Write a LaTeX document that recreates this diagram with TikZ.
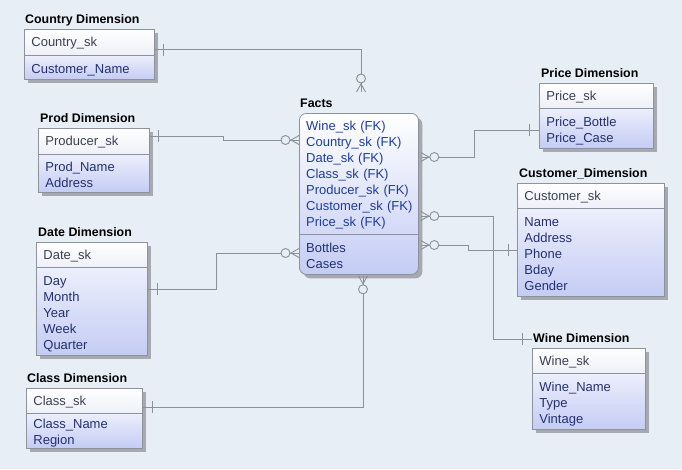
\documentclass[tikz,border=0pt]{standalone}
\usepackage{fontspec}
\setmainfont{Liberation Sans}
\usetikzlibrary{shadows,calc}
\definecolor{bgc}{HTML}{E8EEF6}
\definecolor{connc}{HTML}{8C9098}
\definecolor{boxln}{HTML}{8E929C}
\definecolor{hdrbot}{HTML}{EEF0F8}
\definecolor{bdytop}{HTML}{ECEFFC}
\definecolor{bdybot}{HTML}{C4CCF4}
\definecolor{keytxt}{HTML}{3C4052}
\definecolor{bodytxt}{HTML}{24306E}
\definecolor{fktxt}{HTML}{1F3C9C}
\definecolor{shadowc}{HTML}{A6A9AF}
\newcommand\rs{\vrule height 12.5pt depth 3.5pt width 0pt}
\newcommand\rt{\vrule height 15.5pt depth 3.5pt width 0pt}
\newcommand\rowfont{\fontsize{13}{16}\selectfont}
\newcommand\ttlfont{\fontsize{12.4}{14}\selectfont\bfseries}
\begin{document}
\begin{tikzpicture}[x=1pt,y=1pt,
  conn/.style={draw=connc, line width=0.9pt},
  ent/.style={draw=boxln, line width=0.8pt, anchor=north west, inner xsep=7pt, inner ysep=0pt, align=left, font=\rowfont,
    drop shadow={shadow xshift=4pt, shadow yshift=-4pt, fill=shadowc, opacity=1}},
  hdr/.style={ent, top color=white, bottom color=hdrbot, text=keytxt},
  bdy/.style={ent, top color=bdytop, bottom color=bdybot, text=bodytxt},
  ttl/.style={anchor=base west, inner sep=0pt, font=\ttlfont, text=black},
  zmany/.pic={\draw[conn] (0,4.5) -- (8,0) -- (0,-4.5); \draw[conn, fill=bgc] (13.5,0) circle (4.5);},
  onebar/.pic={\draw[conn] (0,-6) -- (0,6);}
]
\fill[bgc] (0,0) rectangle (682,-469);
\useasboundingbox (0,0) rectangle (682,-469);

% Country
\node[ttl] (cT) at (25,-23) {Country Dimension};
\node[hdr, minimum width=130, text width=116, minimum height=26] (cH) at (24,-29) {\rs Country\_sk};
\node[bdy, minimum width=130, text width=116, minimum height=24] (cB) at (24,-55) {\rt Customer\_Name};

% Prod
\node[ttl] (pT) at (40,-122) {Prod Dimension};
\node[hdr, minimum width=111, text width=97, minimum height=26] (pH) at (38,-128) {\rs Producer\_sk};
\node[bdy, minimum width=111, text width=97, minimum height=38] (pB) at (38,-154) {\rt Prod\_Name\\\rs Address};

% Date
\node[ttl] (dT) at (38,-236) {Date Dimension};
\node[hdr, minimum width=111, text width=97, minimum height=25] (dH) at (36,-242) {\rs Date\_sk};
\node[bdy, minimum width=111, text width=97, minimum height=88] (dB) at (36,-267) {\rt Day\\\rs Month\\\rs Year\\\rs Week\\\rs Quarter};

% Class
\node[ttl] (clT) at (27,-382) {Class Dimension};
\node[hdr, minimum width=116, text width=102, minimum height=25] (clH) at (26,-388) {\rs Class\_sk};
\node[bdy, minimum width=116, text width=102, minimum height=34] (clB) at (26,-413) {\rt Class\_Name\\\rs Region};

% Price
\node[ttl] (prT) at (541,-77) {Price Dimension};
\node[hdr, minimum width=114, text width=100, minimum height=25] (prH) at (539,-83) {\rs Price\_sk};
\node[bdy, minimum width=114, text width=100, minimum height=40] (prB) at (539,-108) {\rt Price\_Bottle\\\rs Price\_Case};

% Customer
\node[ttl] (cuT) at (519,-177) {Customer\_Dimension};
\node[hdr, minimum width=147, text width=133, minimum height=25] (cuH) at (517,-183) {\rs Customer\_sk};
\node[bdy, minimum width=147, text width=133, minimum height=88] (cuB) at (517,-208) {\rt Name\\\rs Address\\\rs Phone\\\rs Bday\\\rs Gender};

% Wine
\node[ttl] (wT) at (533,-342) {Wine Dimension};
\node[hdr, minimum width=113, text width=99, minimum height=25] (wH) at (532,-348) {\rs Wine\_sk};
\node[bdy, minimum width=113, text width=99, minimum height=56] (wB) at (532,-373) {\rt Wine\_Name\\\rs Type\\\rs Vintage};

% Facts
\node[ttl] (fT) at (300,-107) {Facts};
\node[draw=boxln, line width=0.8pt, rounded corners=7pt, top color=white, bottom color=bdybot,
  drop shadow={shadow xshift=4pt, shadow yshift=-4pt, fill=shadowc, opacity=1},
  anchor=north west, minimum width=119, minimum height=161, inner sep=0pt] (facts) at (299,-113) {};
\draw[draw=boxln, line width=0.8pt] ([yshift=-121]facts.north west) -- ([yshift=-121]facts.north east);
\node[anchor=north west, inner xsep=7pt, inner ysep=0pt, text width=112, minimum height=121, align=left, font=\rowfont, text=fktxt] (fK) at (facts.north west)
  {\rs Wine\_sk (FK)\\\rs Country\_sk (FK)\\\rs Date\_sk (FK)\\\rs Class\_sk (FK)\\\rs Producer\_sk (FK)\\\rs Customer\_sk (FK)\\\rs Price\_sk (FK)};
\node[anchor=north west, inner xsep=7pt, inner ysep=0pt, text width=105, minimum height=40, align=left, font=\rowfont, text=bodytxt] (fM) at ([yshift=-121]facts.north west)
  {\rt Bottles\\\rs Cases};

% connector end points
\coordinate (cS) at ([yshift=6pt]cH.south east);
\coordinate (fTop) at ([xshift=62pt,yshift=21pt]facts.north west);
\coordinate (pS) at ([yshift=-8pt]pH.north east);
\coordinate (fP) at ([yshift=-27pt]facts.north west);
\coordinate (dS) at ([yshift=-22pt]dB.north east);
\coordinate (fD) at ([yshift=-140pt]facts.north west);
\coordinate (clS) at ([yshift=6pt]clB.north east);
\coordinate (fB) at ([xshift=64pt,yshift=-1pt]facts.south west);
\coordinate (prS) at ([yshift=-22pt]prB.north west);
\coordinate (fR1) at ([xshift=2pt,yshift=-44pt]facts.north east);
\coordinate (wS) at ([yshift=9pt]wH.north west);
\coordinate (fR2) at ([xshift=2pt,yshift=-103pt]facts.north east);
\coordinate (cuS) at ([yshift=-42pt]cuB.north west);
\coordinate (fR3) at ([xshift=2pt,yshift=-132pt]facts.north east);

% connectors
\draw[conn] (cS) -| (fTop);
\draw[conn] (pS) -- ++(74,0) |- (fP);
\draw[conn] (dS) -- ++(69,0) |- (fD);
\draw[conn] (clS) -| (fB);
\draw[conn] (prS) -- ++(-65,0) |- (fR1);
\draw[conn] (wS) -- ++(-39,0) |- (fR2);
\draw[conn] (cuS) -- ++(-49,0) |- (fR3);

% one-bars
\pic at ([xshift=9pt]cS) {onebar};
\pic at ([xshift=9pt]pS) {onebar};
\pic at ([xshift=10pt]dS) {onebar};
\pic at ([xshift=10pt]clS) {onebar};
\pic at ([xshift=-10pt]prS) {onebar};
\pic at ([xshift=-10pt]wS) {onebar};
\pic at ([xshift=-9pt]cuS) {onebar};

% zero-or-many ends
\pic[rotate=90] at (fTop) {zmany};
\pic[rotate=180] at (fP) {zmany};
\pic[rotate=180] at (fD) {zmany};
\pic[rotate=-90] at (fB) {zmany};
\pic at (fR1) {zmany};
\pic at (fR2) {zmany};
\pic at (fR3) {zmany};
\end{tikzpicture}
\end{document}
